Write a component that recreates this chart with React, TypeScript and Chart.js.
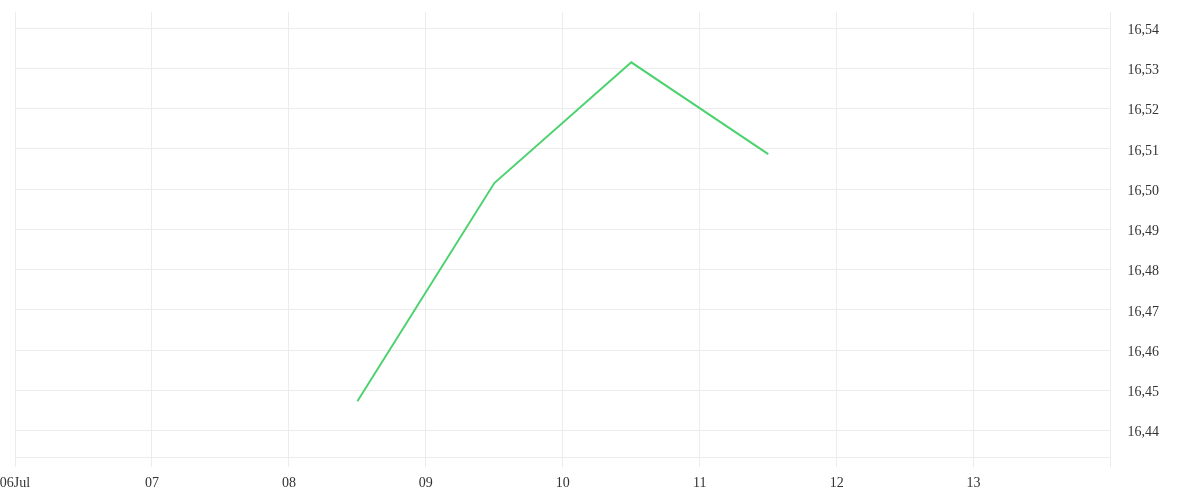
import React, { useEffect, useRef } from "react";
import { Chart, registerables } from "chart.js";

Chart.register(...registerables);

// X axis: days since 06 Jul (one tick per day)
const xTickLabels = ["06Jul", "07", "08", "09", "10", "11", "12", "13"];
// Points sit at midday of 08, 09, 10, 11 Jul
const dayOffsets = [2.5, 3.5, 4.5, 5.5];
const prices = [16.4473, 16.5015, 16.5315, 16.5087];
const yMin = 16.4334;
const yMax = 16.544;

export default function App() {
  const ref = useRef<HTMLCanvasElement | null>(null);

  useEffect(() => {
    document.body.style.margin = "0";
    const ctx = ref.current;
    if (!ctx) return;
    const gridColor = "#ececec";
    const chart = new Chart(ctx, {
      type: "line",
      data: {
        datasets: [
          {
            data: dayOffsets.map((x, i) => ({ x, y: prices[i] })),
            borderColor: "#4cd26e",
            borderWidth: 2,
            pointRadius: 0,
            fill: false,
            tension: 0,
          },
        ],
      },
      options: {
        animation: false,
        responsive: false,
        maintainAspectRatio: false,
        layout: { padding: { top: 12, right: 24, left: 15, bottom: 0 } },
        plugins: { legend: { display: false }, tooltip: { enabled: false } },
        scales: {
          x: {
            type: "linear",
            min: 0,
            max: 7.999,
            afterFit: (s: any) => {
              s.paddingLeft = 0;
              s.paddingRight = 0;
            },
            grid: { color: gridColor, tickLength: 10, tickColor: gridColor },
            border: { color: gridColor },
            ticks: {
              stepSize: 1,
              includeBounds: false,
              autoSkip: false,
              maxRotation: 0,
              padding: 8,
              color: "#333",
              font: { family: "'Liberation Serif'", size: 14 },
              callback: (v: any) => xTickLabels[Math.round(Number(v))] ?? "",
            },
          },
          y: {
            type: "linear",
            position: "right",
            min: yMin,
            max: yMax,
            afterFit: (s: any) => {
              s.paddingTop = 0;
              s.paddingBottom = 0;
            },
            grid: { color: gridColor, drawTicks: false },
            border: { color: gridColor },
            ticks: {
              stepSize: 0.01,
              includeBounds: false,
              padding: 17,
              labelOffset: 2,
              color: "#333",
              font: { family: "'Liberation Serif'", size: 14 },
              callback: (v: any) => Number(v).toFixed(2).replace(".", ","),
            },
          },
        },
      },
    } as any);
    return () => chart.destroy();
  }, []);

  return (
    <div style={{ width: 1200, height: 500 }}>
      <canvas ref={ref} width={1200} height={500} style={{ display: "block" }} />
    </div>
  );
}
